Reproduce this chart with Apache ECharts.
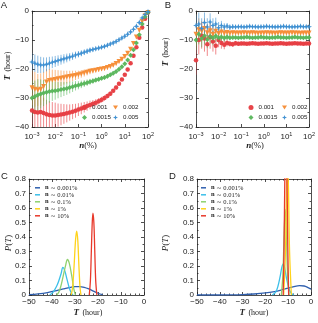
<!DOCTYPE html>
<html><head><meta charset="utf-8">
<script src="https://cdn.jsdelivr.net/npm/echarts@6/dist/echarts.min.js"></script>
<style>html,body{margin:0;padding:0;background:#fff}#c{width:318px;height:323px}</style>
</head><body><div id="c"></div>
<script>
// ---------- data ----------
const nPct = [0.001,0.00133,0.00178,0.00237,0.00316,0.00422,0.00562,0.0075,
  0.01,0.0133,0.0178,0.0237,0.0316,0.0422,0.0562,0.075,
  0.1,0.133,0.178,0.237,0.316,0.422,0.562,0.75,
  1,1.33,1.78,2.37,3.16,4.22,5.62,7.5,
  10,13.3,17.8,23.7,31.6,42.2,56.2,75,100];
const legendNames = ['0.001','0.002','0.0015','0.005'];

// Panel A
const aRed = [-34.3,-34.8,-35.0,-34.8,-35.2,-35.6,-35.9,-36.0,
  -36.0,-35.9,-35.7,-35.5,-35.3,-35.0,-34.7,-34.4,
  -34.0,-33.6,-33.2,-32.8,-32.4,-32.0,-31.6,-31.1,
  -30.6,-30.0,-29.3,-28.5,-27.5,-26.4,-25.1,-23.6,
  -22.0,-20.2,-18.0,-15.4,-12.5,-9.2,-5.7,-2.7,-0.5];
const aOrange = [-26.5,-27.0,-27.2,-27.0,-26.0,-24.5,-24.0,-23.8,
  -23.6,-23.4,-23.2,-23.0,-22.8,-22.6,-22.4,-22.2,
  -22.0,-21.7,-21.4,-21.1,-20.8,-20.6,-20.4,-20.2,
  -20.0,-19.8,-19.5,-19.1,-18.7,-18.1,-17.4,-16.6,
  -15.7,-14.6,-13.2,-11.2,-9.0,-6.6,-3.6,-1.6,-0.5];
const aGreen = [-30.0,-29.5,-29.0,-28.6,-28.3,-28.0,-27.8,-27.6,
  -27.5,-27.3,-27.1,-26.9,-26.7,-26.4,-26.1,-25.8,
  -25.6,-25.3,-25.0,-24.7,-24.4,-24.1,-23.8,-23.5,
  -23.2,-22.9,-22.5,-22.0,-21.5,-20.9,-20.1,-19.2,
  -18.2,-16.9,-15.3,-13.4,-11.0,-8.2,-4.5,-2.0,-0.5];
const aBlue = [-17.6,-18.0,-18.4,-18.6,-18.6,-18.4,-18.0,-17.7,
  -17.4,-17.1,-16.8,-16.5,-16.2,-15.9,-15.6,-15.2,
  -14.9,-14.6,-14.2,-13.9,-13.5,-13.3,-13.0,-12.8,
  -12.5,-12.2,-11.8,-11.4,-11.0,-10.5,-9.9,-9.3,
  -8.7,-8.0,-7.2,-6.3,-5.3,-4.0,-2.4,-1.2,-0.3];
const aRedErr = [6,6,5.8,5.5,5.3,5,4.8,4.6, 4.4,4,3.7,3.4,3.1,2.8,2.6,2.4,
  2.2,2,1.8,1.6,1.5,1.3,1.2,1.1, 1,0.9,0.8,0.8,0.7,0.7,0.7,0.6,
  0.6,0.6,0.6,0.6,0.6,0.6,0.6,0.6,0.6];
const aOrangeErr = [6,6,5.5,5.5,5,4.5,4,3.6, 3.3,3,2.7,2.4,2.2,2,1.8,1.6,
  1.4,1.3,1.2,1.1,1,0.9,0.8,0.8, 0.7,0.7,0.7,0.6,0.6,0.6,0.6,0.6,
  0.6,0.6,0.6,0.6,0.6,0.6,0.6,0.6,0.6];
const aGreenErr = [6,5.5,5.5,5,4.5,4.2,3.8,3.4, 3.1,2.8,2.6,2.4,2.2,2,1.8,1.6,
  1.4,1.3,1.2,1.1,1,0.9,0.8,0.8, 0.7,0.7,0.7,0.6,0.6,0.6,0.6,0.6,
  0.6,0.6,0.6,0.6,0.6,0.6,0.6,0.6,0.6];
const aBlueErr = [3,3,3,2.8,2.6,2.4,2.2,2, 1.9,1.8,1.7,1.6,1.5,1.4,1.3,1.2,
  1.1,1,0.9,0.9,0.8,0.8,0.7,0.7, 0.6,0.6,0.6,0.6,0.6,0.6,0.6,0.6,
  0.6,0.6,0.6,0.6,0.6,0.6,0.6,0.6,0.6];

// Panel B
const bRed = [-17.0,-10.0,-8.5,-9.5,-11.5,-9.0,-10.5,-12.0,
  -10.0,-11.0,-11.6,-11.0,-11.3,-11.5,-11.1,-11.3,
  -11.2,-11.2,-11.3,-11.2,-11.1,-11.2,-11.3,-11.2,
  -11.2,-11.1,-11.2,-11.3,-11.2,-11.2,-11.1,-11.2,
  -11.3,-11.2,-11.2,-11.1,-11.2,-11.2,-11.3,-11.2,-11.2];
const bOrange = [-8.0,-6.5,-7.0,-6.0,-7.5,-6.8,-8.0,-7.0,
  -7.8,-7.2,-7.7,-7.4,-7.7,-7.5,-7.6,-7.6,
  -7.6,-7.5,-7.6,-7.6,-7.5,-7.6,-7.7,-7.6,
  -7.6,-7.5,-7.6,-7.6,-7.7,-7.6,-7.5,-7.6,
  -7.6,-7.6,-7.5,-7.6,-7.6,-7.7,-7.6,-7.6,-7.6];
const bGreen = [-10.0,-8.0,-9.5,-8.5,-9.8,-8.8,-9.3,-8.6,
  -9.2,-9.0,-9.3,-9.0,-9.2,-9.1,-9.1,-9.2,
  -9.1,-9.1,-9.0,-9.1,-9.2,-9.1,-9.1,-9.0,
  -9.1,-9.1,-9.2,-9.1,-9.1,-9.0,-9.1,-9.1,
  -9.2,-9.1,-9.1,-9.0,-9.1,-9.1,-9.2,-9.1,-9.1];
const bBlue = [-5.0,-4.5,-6.0,-4.0,-5.5,-3.8,-5.0,-4.5,
  -5.8,-5.0,-5.5,-5.2,-5.6,-5.4,-5.5,-5.4,
  -5.4,-5.5,-5.4,-5.3,-5.4,-5.4,-5.5,-5.4,
  -5.4,-5.3,-5.4,-5.4,-5.5,-5.4,-5.4,-5.3,
  -5.4,-5.4,-5.5,-5.4,-5.4,-5.3,-5.4,-5.4,-5.4];
const bRedErr = [5,5,4.5,4.5,4,4,3.5,3, 2.5,2,1.6,1.2,1,0.9,0.8,0.7,
  0.7,0.6,0.6,0.6,0.6,0.6,0.6,0.6, 0.6,0.6,0.6,0.6,0.6,0.6,0.6,0.6,
  0.6,0.6,0.6,0.6,0.6,0.6,0.6,0.6,0.6];
const bOrangeErr = [4,4,3.5,3.5,3,3,2.5,2.2, 2,1.6,1.3,1,0.9,0.8,0.7,0.6,
  0.6,0.6,0.6,0.6,0.6,0.6,0.6,0.6, 0.6,0.6,0.6,0.6,0.6,0.6,0.6,0.6,
  0.6,0.6,0.6,0.6,0.6,0.6,0.6,0.6,0.6];
const bGreenErr = [3.5,3.5,3,3,3,2.5,2.5,2, 1.8,1.5,1.2,1,0.8,0.7,0.6,0.6,
  0.6,0.6,0.6,0.6,0.6,0.6,0.6,0.6, 0.6,0.6,0.6,0.6,0.6,0.6,0.6,0.6,
  0.6,0.6,0.6,0.6,0.6,0.6,0.6,0.6,0.6];
const bBlueErr = [3.5,4,3.5,3.5,3,3,2.5,2.2, 2,1.6,1.3,1,0.9,0.8,0.7,0.6,
  0.6,0.6,0.6,0.6,0.6,0.6,0.6,0.6, 0.6,0.6,0.6,0.6,0.6,0.6,0.6,0.6,
  0.6,0.6,0.6,0.6,0.6,0.6,0.6,0.6,0.6];

// Panel C (distributions)
const distNames = ['0.001%','0.01%','0.1%','1%','10%'];
const cBlueT = [-50,-46,-42,-38,-35,-32,-30,-28,-26,-24,-22,-20,-18];
const cBlueP = [0.002,0.008,0.017,0.03,0.042,0.053,0.058,0.058,0.053,0.042,0.027,0.012,0.002];
const cCyanT = [-41,-39.5,-38,-37,-36,-35.3,-34.5,-33.5,-32.5,-31.5,-30.8];
const cCyanP = [0,0.02,0.06,0.1,0.15,0.19,0.17,0.11,0.05,0.01,0];
const cGreenT = [-38,-37,-36,-35,-34,-33.3,-32.5,-31.5,-30.5,-29.8];
const cGreenP = [0,0.02,0.07,0.14,0.21,0.245,0.22,0.14,0.04,0];
const cYellowT = [-31.6,-31,-30.4,-29.8,-29.3,-28.8,-28.3,-27.8,-27.4];
const cYellowP = [0,0.06,0.2,0.37,0.44,0.38,0.2,0.05,0];
const cRedT = [-23.8,-23.3,-22.9,-22.5,-22.2,-21.8,-21.4,-21,-20.5];
const cRedP = [0,0.1,0.3,0.5,0.565,0.5,0.3,0.1,0];

// Panel D
const dBlueT = [-50,-40,-35,-30,-25,-20,-16,-13,-10,-7,-5,-3,-1.5,0];
const dBlueP = [0,0,0.001,0.003,0.007,0.014,0.024,0.035,0.048,0.06,0.064,0.062,0.053,0.04];
const dCyanT = [-17,-15.5,-14.5,-13.5,-12.8,-12.2,-11.6,-10.8,-9.8,-8.8,-7.5];
const dCyanP = [0,0.02,0.06,0.13,0.19,0.215,0.19,0.12,0.05,0.015,0];
const dGreenT = [-13,-12.3,-11.8,-11.3,-10.8,-10.3,-9.6];
const dGreenP = [0,0.15,0.42,0.59,0.42,0.15,0];
const dYellowT = [-12,-11.2,-10.7,-10.3,-9.9,-9.4,-8.6];
const dYellowP = [0,0.3,0.75,0.95,0.75,0.3,0];
const dRedT = [-12.2,-11.8,-11.4,-11.0,-10.6,-10.2,-9.8];
const dRedP = [0,0.35,0.9,1.1,0.9,0.35,0];

// ---------- styling ----------
const SANS = 'Liberation Sans, Arial, sans-serif';
const SERIF = 'Liberation Serif, DejaVu Serif, serif';
const markerColors = ['#e63b40','#f68b33','#57b55a','#3a8dd1'];
const symbols = ['circle','path://M-5,-4 L5,-4 L0,4 Z','diamond','path://M0,-5 L1.3,-1.3 L5,0 L1.3,1.3 L0,5 L-1.3,1.3 L-5,0 L-1.3,-1.3 Z'];
const symSize = [4.5,5,5,6];
const distColors = ['#2f5fae','#3cbfe9','#8fd16d','#ffd31a','#e8392b'];

const grids = [
  {left:32, top:11, width:116, height:116},
  {left:196, top:11, width:115, height:116},
  {left:29, top:179, width:115, height:116},
  {left:197, top:179, width:114, height:116}
];
const lineSt = {color:'#222', width:0.8};
const minus = v => v < 0 ? '\u2212' + Math.abs(v) : String(v);

function logAxis(g, pos, labels) {
  return {
    type:'log', logBase:10, min:0.001, max:100, gridIndex:g, position:pos,
    axisLine:{show:true, onZero:false, lineStyle:lineSt},
    axisTick:{show:true, inside:true, length:3, lineStyle:lineSt},
    splitLine:{show:false},
    axisLabel:{show:labels, margin:4, showMinLabel:true, showMaxLabel:true,
      formatter: v => { const e = Math.round(Math.log10(v)); return '{b|10}{s|' + (e < 0 ? '\u2212' + (-e) : e) + '}'; },
      rich:{ b:{fontSize:8, fontFamily:SANS, color:'#222', lineHeight:10, verticalAlign:'bottom'},
             s:{fontSize:5.5, fontFamily:SANS, color:'#222', lineHeight:5, verticalAlign:'top'} }
    }
  };
}
function valAxis(g, pos, min, max, interval, labels, minorSplit, fmt) {
  return {
    type:'value', min, max, interval, gridIndex:g, position:pos,
    axisLine:{show:true, onZero:false, lineStyle:lineSt},
    axisTick:{show:true, inside:true, length:3, lineStyle:lineSt},
    minorTick:{show:true, splitNumber:minorSplit, length:1.5, lineStyle:lineSt},
    splitLine:{show:false}, minorSplitLine:{show:false},
    axisLabel:{show:labels, margin:3, fontSize:8, fontFamily:SANS, color:'#222', formatter:fmt, showMinLabel:true, showMaxLabel:true}
  };
}
const fmtP = v => v === 0 ? '0' : v.toFixed(1);

const xAxis = [
  logAxis(0,'bottom',true), logAxis(0,'top',false),
  logAxis(1,'bottom',true), logAxis(1,'top',false),
  valAxis(2,'bottom',-50,0,10,true,5,minus), valAxis(2,'top',-50,0,10,false,5,minus),
  valAxis(3,'bottom',-50,0,10,true,5,minus), valAxis(3,'top',-50,0,10,false,5,minus)
];
const yAxis = [
  valAxis(0,'left',-40,0,10,true,2,minus), valAxis(0,'right',-40,0,10,false,2,minus),
  valAxis(1,'left',-40,0,10,true,2,minus), valAxis(1,'right',-40,0,10,false,2,minus),
  valAxis(2,'left',0,0.8,0.1,true,2,fmtP), valAxis(2,'right',0,0.8,0.1,false,2,fmtP),
  valAxis(3,'left',0,0.8,0.1,true,2,fmtP), valAxis(3,'right',0,0.8,0.1,false,2,fmtP)
];

function errSeries(name, vals, errs, color, ai) {
  return {
    type:'custom', name:'err ' + name, xAxisIndex:ai, yAxisIndex:ai, clip:true, silent:true, z:2,
    data: nPct.map((n,i) => [n, vals[i], errs[i]]),
    encode:{x:0, y:1},
    renderItem:(p, api) => {
      const x = api.value(0), y = api.value(1), e = api.value(2);
      const a = api.coord([x, y + e]), b = api.coord([x, y - e]);
      return {type:'line', shape:{x1:a[0], y1:a[1], x2:b[0], y2:b[1]},
        style:{stroke:color, lineWidth:1, opacity:0.6}};
    }
  };
}
function markSeries(k, vals, ai) {
  return {
    type:'scatter', name:legendNames[k], xAxisIndex:ai, yAxisIndex:ai, z:3,
    symbol:symbols[k], symbolSize:symSize[k],
    itemStyle:{color:markerColors[k], opacity:0.95},
    data: nPct.map((n,i) => [n, vals[i]])
  };
}
function distSeries(k, T, P, ai) {
  return {
    type:'line', name:distNames[k], xAxisIndex:ai, yAxisIndex:ai, smooth:0.35,
    showSymbol:false, symbol:'none', clip:true,
    lineStyle:{color:distColors[k], width:1.3}, itemStyle:{color:distColors[k]},
    data: T.map((t,i) => [t, P[i]])
  };
}

const aVals = [aRed, aOrange, aGreen, aBlue], aErrs = [aRedErr, aOrangeErr, aGreenErr, aBlueErr];
const bVals = [bRed, bOrange, bGreen, bBlue], bErrs = [bRedErr, bOrangeErr, bGreenErr, bBlueErr];
const series = [];
[0,1,2,3].forEach(k => series.push(errSeries(legendNames[k], aVals[k], aErrs[k], markerColors[k], 0)));
[0,1,2,3].forEach(k => series.push(markSeries(k, aVals[k], 0)));
[0,1,2,3].forEach(k => series.push(errSeries(legendNames[k], bVals[k], bErrs[k], markerColors[k], 2)));
[0,1,2,3].forEach(k => series.push(markSeries(k, bVals[k], 2)));
const cT = [cBlueT,cCyanT,cGreenT,cYellowT,cRedT], cP = [cBlueP,cCyanP,cGreenP,cYellowP,cRedP];
const dT = [dBlueT,dCyanT,dGreenT,dYellowT,dRedT], dP = [dBlueP,dCyanP,dGreenP,dYellowP,dRedP];
[0,1,2,3,4].forEach(k => series.push(distSeries(k, cT[k], cP[k], 4)));
[0,1,2,3,4].forEach(k => series.push(distSeries(k, dT[k], dP[k], 6)));

function markLegend(name, left, top) {
  return {data:[name], left, top, padding:0, itemWidth:5, itemHeight:5, selectedMode:false,
    textStyle:{fontSize:6.2, fontFamily:SANS, color:'#222', lineHeight:7}};
}
function distLegend(left, top) {
  return {data:distNames, orient:'vertical', left, top, padding:0, itemGap:0,
    itemWidth:5, itemHeight:1.5, icon:'rect', selectedMode:false,
    formatter: n => '{i|n} \u223C ' + n,
    textStyle:{fontSize:6.5, fontFamily:SERIF, color:'#222', lineHeight:6.9,
      rich:{i:{fontSize:6.5, fontFamily:SERIF, fontWeight:'bold', color:'#222'}}}};
}
const legend = [
  markLegend('0.001', 82, 104), markLegend('0.002', 113, 104),
  markLegend('0.0015', 82, 114), markLegend('0.005', 113, 114),
  markLegend('0.001', 248.5, 104), markLegend('0.002', 282, 104),
  markLegend('0.0015', 248.5, 114), markLegend('0.005', 282, 114),
  distLegend(35, 184.3), distLegend(201, 184.3)
];

function txt(x, y, text, rich, rot, base) {
  return {type:'text', x, y, rotation:rot || 0, silent:true,
    style:Object.assign({text, align:'center', verticalAlign:'middle', fill:'#222', rich}, base || {})};
}
const panelFont = {fontSize:9.5, fontFamily:SANS};
const hourRich = {t:{fontSize:9, fontFamily:SERIF, fontStyle:'italic', fontWeight:'bold', fill:'#222'},
                  h:{fontSize:8, fontFamily:SERIF, fill:'#222'}};
const nRich = {t:{fontSize:9, fontFamily:SERIF, fontStyle:'italic', fontWeight:'bold', fill:'#222'},
               h:{fontSize:8.5, fontFamily:SERIF, fill:'#222'}};
const pRich = {t:{fontSize:9, fontFamily:SERIF, fontStyle:'italic', fill:'#222'},
               h:{fontSize:9, fontFamily:SERIF, fill:'#222'}};
const graphic = [
  txt(4, 5.5, 'A', null, 0, panelFont),
  txt(168, 5.5, 'B', null, 0, panelFont),
  txt(4.5, 176.5, 'C', null, 0, panelFont),
  txt(172.5, 176.5, 'D', null, 0, panelFont),
  txt(8, 66, '{t|T} {h|(hour)}', hourRich, Math.PI/2),
  txt(166, 52, '{t|T} {h|(hour)}', hourRich, Math.PI/2),
  txt(88, 146, '{t|n}{h|(%)}', nRich),
  txt(255, 146, '{t|n}{h|(%)}', nRich),
  txt(9, 243, '{t|P}{h|(}{t|T}{h|)}', pRich, Math.PI/2),
  txt(166, 243, '{t|P}{h|(}{t|T}{h|)}', pRich, Math.PI/2),
  txt(88, 313, '{t|T} {h|(hour)}', hourRich),
  txt(254, 313, '{t|T} {h|(hour)}', hourRich)
];

const chart = echarts.init(document.getElementById('c'), null, {renderer:'canvas'});
chart.setOption({
  animation:false, backgroundColor:'#fff',
  grid:grids, xAxis, yAxis, series, legend, graphic
});
</script></body></html>
